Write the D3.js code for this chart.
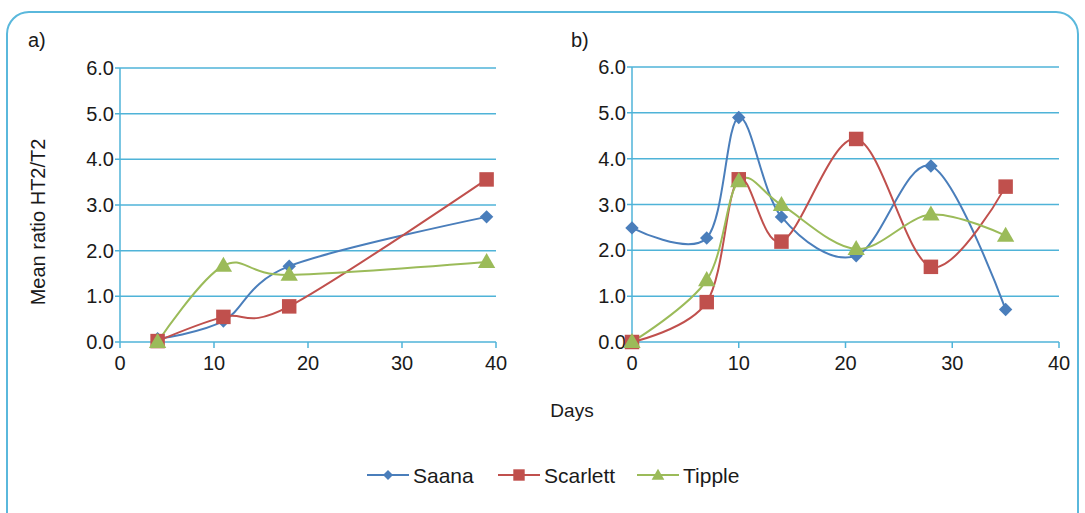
<!DOCTYPE html>
<html>
<head>
<meta charset="utf-8">
<script src="https://cdn.jsdelivr.net/npm/d3@7"></script>
<style>
  html, body { margin: 0; padding: 0; background: #fff; }
  svg { display: block; }
  text { font-family: "Liberation Sans", Arial, sans-serif; fill: #1a1a1a; }
</style>
</head>
<body>
<svg id="chart" width="1085" height="513"></svg>
<script>
// Sampling days and mean HT2/T2 ratios, experiment a)
const daysA = [4, 11, 18, 39];
const saanaA = [0.07, 0.46, 1.66, 2.74];
const scarlettA = [0.02, 0.55, 0.78, 3.56];
const tippleA = [0.0, 1.67, 1.47, 1.75];

// Sampling days and mean HT2/T2 ratios, experiment b)
const daysB = [0, 7, 10, 14, 21, 28, 35];
const saanaB = [2.49, 2.27, 4.90, 2.73, 1.88, 3.84, 0.71];
const scarlettB = [0.0, 0.87, 3.55, 2.19, 4.43, 1.64, 3.39];
const tippleB = [0.0, 1.35, 3.51, 2.99, 2.03, 2.78, 2.32];

const seriesNames = ["Saana", "Scarlett", "Tipple"];
const xTicks = [0, 10, 20, 30, 40];
const yTicks = [0, 1, 2, 3, 4, 5, 6];
const panelLabels = ["a)", "b)"];

const colors = { Saana: "#4a7ebb", Scarlett: "#c0504d", Tipple: "#9bbb59" };
const gridColor = "#4fb3d8";

const svg = d3.select("#chart");

// Outer rounded frame
svg.append("rect")
  .attr("x", 7).attr("y", 12)
  .attr("width", 1071).attr("height", 540)
  .attr("rx", 22).attr("ry", 22)
  .attr("fill", "none")
  .attr("stroke", "#5ab8dc")
  .attr("stroke-width", 2);

const panels = [
  { label: panelLabels[0], days: daysA, values: [saanaA, scarlettA, tippleA],
    x0: 120, x1: 496, y0: 342, y1: 68, lx: 28, ly: 47 },
  { label: panelLabels[1], days: daysB, values: [saanaB, scarlettB, tippleB],
    x0: 632, x1: 1059, y0: 342, y1: 67, lx: 571, ly: 47 }
];

function marker(sel, name, c) {
  if (name === "Saana") {
    sel.append("path")
      .attr("d", d3.symbol(d3.symbolSquare, 90)())
      .attr("transform", `translate(${c[0]},${c[1]}) rotate(45)`)
      .attr("fill", colors[name]);
  } else if (name === "Scarlett") {
    sel.append("path")
      .attr("d", d3.symbol(d3.symbolSquare, 210)())
      .attr("transform", `translate(${c[0]},${c[1]})`)
      .attr("fill", colors[name]);
  } else {
    sel.append("path")
      .attr("d", d3.symbol(d3.symbolTriangle, 130)())
      .attr("transform", `translate(${c[0]},${c[1] + 1})`)
      .attr("fill", colors[name]);
  }
}

panels.forEach(p => {
  const x = d3.scaleLinear().domain([0, 40]).range([p.x0, p.x1]);
  const y = d3.scaleLinear().domain([0, 6]).range([p.y0, p.y1]);
  const g = svg.append("g");

  // Horizontal gridlines with small outside ticks
  g.selectAll(".grid").data(yTicks).join("line")
    .attr("x1", p.x0 - 5).attr("x2", p.x1)
    .attr("y1", d => y(d)).attr("y2", d => y(d))
    .attr("stroke", gridColor).attr("stroke-width", 1.5);

  // Y axis line
  g.append("line")
    .attr("x1", p.x0).attr("x2", p.x0)
    .attr("y1", y(6)).attr("y2", y(0))
    .attr("stroke", gridColor).attr("stroke-width", 1.5);

  // X ticks
  g.selectAll(".xt").data(xTicks).join("line")
    .attr("x1", d => x(d)).attr("x2", d => x(d))
    .attr("y1", y(0)).attr("y2", y(0) + 6)
    .attr("stroke", gridColor).attr("stroke-width", 1.5);

  // Tick labels
  g.selectAll(".yl").data(yTicks).join("text")
    .attr("x", p.x0 - 6).attr("y", d => y(d) + 7)
    .attr("text-anchor", "end")
    .attr("font-size", 20)
    .text(d => d3.format(".1f")(d));

  g.selectAll(".xl").data(xTicks).join("text")
    .attr("x", d => x(d)).attr("y", y(0) + 28)
    .attr("text-anchor", "middle")
    .attr("font-size", 20)
    .text(d => d);

  // Panel label
  g.append("text").attr("x", p.lx).attr("y", p.ly)
    .attr("font-size", 20).text(p.label);

  // Smoothed series lines, then markers
  const line = d3.line()
    .x(d => x(d[0])).y(d => y(d[1]))
    .curve(d3.curveCatmullRom.alpha(0));

  seriesNames.forEach((name, i) => {
    const pts = p.days.map((d, k) => [d, p.values[i][k]]);
    g.append("path")
      .datum(pts)
      .attr("d", line)
      .attr("fill", "none")
      .attr("stroke", colors[name])
      .attr("stroke-width", 2);
  });
  seriesNames.forEach((name, i) => {
    const mg = g.append("g");
    p.days.forEach((d, k) => marker(mg, name, [x(d), y(p.values[i][k])]));
  });
});

// Axis titles
svg.append("text")
  .attr("transform", "translate(45,222) rotate(-90)")
  .attr("text-anchor", "middle")
  .attr("font-size", 20)
  .text("Mean ratio HT2/T2");

svg.append("text")
  .attr("x", 572).attr("y", 417)
  .attr("text-anchor", "middle")
  .attr("font-size", 19)
  .text("Days");

// Legend
const legendItems = [
  { name: seriesNames[0], lx: 367 },
  { name: seriesNames[1], lx: 498 },
  { name: seriesNames[2], lx: 637 }
];
const lg = svg.append("g");
legendItems.forEach(it => {
  const cy = 475;
  lg.append("line")
    .attr("x1", it.lx).attr("x2", it.lx + 42)
    .attr("y1", cy).attr("y2", cy)
    .attr("stroke", colors[it.name]).attr("stroke-width", 2);
  if (it.name === "Saana") {
    lg.append("path").attr("d", d3.symbol(d3.symbolSquare, 50)())
      .attr("transform", `translate(${it.lx + 21},${cy}) rotate(45)`)
      .attr("fill", colors[it.name]);
  } else if (it.name === "Scarlett") {
    lg.append("path").attr("d", d3.symbol(d3.symbolSquare, 130)())
      .attr("transform", `translate(${it.lx + 21},${cy})`)
      .attr("fill", colors[it.name]);
  } else {
    lg.append("path").attr("d", d3.symbol(d3.symbolTriangle, 70)())
      .attr("transform", `translate(${it.lx + 21},${cy + 1})`)
      .attr("fill", colors[it.name]);
  }
  lg.append("text")
    .attr("x", it.lx + 46).attr("y", cy + 8)
    .attr("font-size", 21)
    .text(it.name);
});
</script>
</body>
</html>
